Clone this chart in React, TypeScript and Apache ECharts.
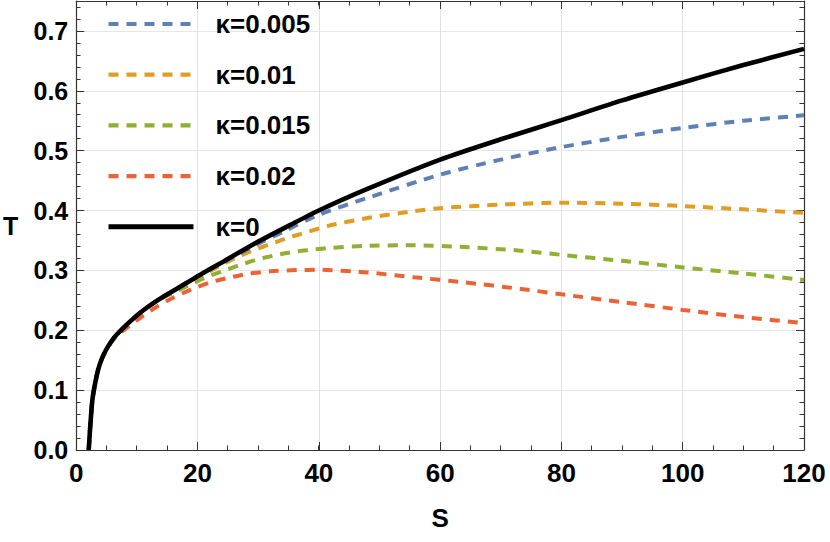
import React, { useEffect, useRef } from 'react';
import * as echarts from 'echarts';

// ---- data ----
const legendNames = ['κ=0.005', 'κ=0.01', 'κ=0.015', 'κ=0.02', 'κ=0'];

// κ = 0 (black solid)
const sK0 = [2.05, 2.3, 2.65, 3.1, 3.6, 4.2, 4.9, 5.7, 6.6, 8.8, 11, 13.7, 16.5, 19, 21, 24.3, 29.8, 35.3, 40, 48, 60, 70, 80, 90, 100, 110, 120];
const tK0 = [0, 0.039, 0.083, 0.111, 0.134, 0.152, 0.167, 0.18, 0.192, 0.214, 0.233, 0.252, 0.269, 0.284, 0.296, 0.315, 0.347, 0.376, 0.4, 0.436, 0.485, 0.519, 0.551, 0.584, 0.614, 0.643, 0.67];

// κ = 0.005 (blue dashed)
const sK1 = [2.05, 2.3, 2.65, 3.1, 3.6, 4.2, 4.9, 5.7, 6.6, 8.8, 11, 13.7, 16.5, 19, 21, 24.3, 29.3, 34.2, 40, 48, 60, 70, 80, 90, 100, 110, 120];
const tK1 = [0, 0.039, 0.083, 0.111, 0.134, 0.152, 0.167, 0.18, 0.192, 0.214, 0.233, 0.252, 0.269, 0.284, 0.296, 0.314, 0.341, 0.365, 0.393, 0.421, 0.46, 0.485, 0.506, 0.523, 0.538, 0.55, 0.559];

// κ = 0.01 (orange dashed)
const sK2 = [2.05, 2.3, 2.65, 3.1, 3.6, 4.2, 4.9, 5.7, 6.6, 8.8, 11, 13.7, 16.5, 19, 21, 23.7, 26.5, 29.3, 32, 34.8, 38.1, 41.4, 48, 55.7, 60, 70, 80, 90, 100, 110, 120];
const tK2 = [0, 0.039, 0.083, 0.111, 0.134, 0.152, 0.167, 0.18, 0.192, 0.214, 0.233, 0.252, 0.269, 0.283, 0.293, 0.308, 0.322, 0.334, 0.344, 0.354, 0.364, 0.374, 0.3875, 0.399, 0.404, 0.41, 0.413, 0.4115, 0.4075, 0.402, 0.396];

// κ = 0.015 (green dashed)
const sK3 = [2.05, 2.3, 2.65, 3.1, 3.6, 4.2, 4.9, 5.7, 6.6, 8.8, 11, 13.7, 15.9, 18.7, 21.5, 24.3, 27, 29.8, 33.1, 35.9, 39.2, 41.7, 47.4, 55.7, 64, 73.3, 80, 90, 100, 110, 120];
const tK3 = [0, 0.039, 0.083, 0.111, 0.134, 0.152, 0.167, 0.18, 0.192, 0.214, 0.233, 0.252, 0.262, 0.276, 0.289, 0.2994, 0.309, 0.318, 0.326, 0.331, 0.335, 0.3375, 0.341, 0.342, 0.339, 0.333, 0.326, 0.316, 0.305, 0.295, 0.284];

// κ = 0.02 (red dashed)
const sK4 = [2.05, 2.3, 2.65, 3.1, 3.6, 4.2, 4.9, 5.7, 6.6, 8.2, 11, 13.2, 15.9, 18.9, 22.1, 24.8, 28.2, 32, 36.4, 40, 47.4, 55.7, 64, 73.3, 80, 90, 100, 110, 120];
const tK4 = [0, 0.039, 0.083, 0.111, 0.134, 0.152, 0.166, 0.179, 0.19, 0.203, 0.224, 0.239, 0.254, 0.268, 0.28, 0.287, 0.294, 0.2985, 0.3005, 0.301, 0.297, 0.2885, 0.28, 0.269, 0.26, 0.247, 0.234, 0.222, 0.212];

const colors = ['#5E81B5', '#E19C24', '#8FB032', '#EB6235', '#000000'];

const xMin = 0, xMax = 120, xMajor = 20, xMinor = 5;
const yMin = 0, yMax = 0.75, yMajor = 0.1, yMinor = 0.02;

const FONT = '"Liberation Sans", Arial, Helvetica, sans-serif';
const frameColor = '#333333';

const zip = (s: number[], t: number[]) => s.map((v, i) => [v, t[i]]);

export default function App() {
  const ref = useRef<HTMLDivElement>(null);
  useEffect(() => {
    const chart = echarts.init(ref.current!, null, { renderer: 'svg' });
    const frameLine = { show: true, onZero: false, lineStyle: { color: frameColor, width: 1.2 } };
    const noLine = { show: false, onZero: false };
    const majorTick = { show: true, inside: true, length: 8, lineStyle: { color: frameColor, width: 1 } };
    const minorTick = { show: true, inside: true, length: 4.5, lineStyle: { color: frameColor, width: 1 } };
    const grid = { left: 76, right: 26, top: 1, bottom: 92, containLabel: false };

    const xBase = { type: 'value', min: xMin, max: xMax };
    const yBase = { type: 'value', min: yMin, max: yMax };

    const dashed = [10, 8];
    const datasets = [zip(sK1, tK1), zip(sK2, tK2), zip(sK3, tK3), zip(sK4, tK4), zip(sK0, tK0)];
    const widthOf = (i: number) => (i === 4 ? 4.6 : 4);
    const typeOf = (i: number) => (i === 4 ? 'solid' : dashed);

    const series = datasets.map((d, i) => ({
      name: legendNames[i],
      type: 'line',
      xAxisIndex: 0,
      yAxisIndex: 0,
      data: d,
      symbol: 'none',
      smooth: 0.25,
      clip: true,
      z: i === 4 ? 10 : 5 - i,
      lineStyle: {
        color: colors[i],
        width: widthOf(i),
        type: typeOf(i),
        cap: 'butt',
      },
      itemStyle: { color: colors[i] },
    }));

    chart.setOption({
      animation: false,
      backgroundColor: '#ffffff',
      grid: [grid, grid],
      xAxis: [
        {
          ...xBase, gridIndex: 0, position: 'bottom', interval: xMajor,
          axisLine: frameLine, axisTick: majorTick,
          axisLabel: { show: true, margin: 10, color: '#000', fontSize: 26, fontWeight: 'bold', fontFamily: FONT },
          splitLine: { show: true, lineStyle: { color: '#e0e0e0', width: 1 } },
          name: 'S', nameLocation: 'middle', nameGap: 55,
          nameTextStyle: { color: '#000', fontSize: 26, fontWeight: 'bold', fontFamily: FONT },
        },
        {
          ...xBase, gridIndex: 0, position: 'top', interval: xMajor,
          axisLine: frameLine, axisTick: majorTick, axisLabel: { show: false }, splitLine: { show: false },
        },
        {
          ...xBase, gridIndex: 1, position: 'bottom', interval: xMinor,
          axisLine: noLine, axisTick: minorTick, axisLabel: { show: false }, splitLine: { show: false },
        },
        {
          ...xBase, gridIndex: 1, position: 'top', interval: xMinor,
          axisLine: noLine, axisTick: minorTick, axisLabel: { show: false }, splitLine: { show: false },
        },
      ],
      yAxis: [
        {
          ...yBase, gridIndex: 0, position: 'left', interval: yMajor,
          axisLine: frameLine, axisTick: majorTick,
          axisLabel: {
            show: true, margin: 8, color: '#000', fontSize: 25, fontWeight: 'bold', fontFamily: FONT,
            showMaxLabel: false,
            formatter: (v: number) => v.toFixed(1),
          },
          splitLine: { show: true, lineStyle: { color: '#e6e6e6', width: 1 } },
          name: 'T', nameLocation: 'middle', nameGap: 58, nameRotate: 0,
          nameTextStyle: { color: '#000', fontSize: 25, fontWeight: 'bold', fontFamily: FONT },
        },
        {
          ...yBase, gridIndex: 0, position: 'right', interval: yMajor,
          axisLine: frameLine, axisTick: majorTick, axisLabel: { show: false }, splitLine: { show: false },
        },
        {
          ...yBase, gridIndex: 1, position: 'left', interval: yMinor,
          axisLine: noLine, axisTick: minorTick, axisLabel: { show: false }, splitLine: { show: false },
        },
        {
          ...yBase, gridIndex: 1, position: 'right', interval: yMinor,
          axisLine: noLine, axisTick: minorTick, axisLabel: { show: false }, splitLine: { show: false },
        },
      ],
      legend: {
        show: true,
        orient: 'vertical',
        left: 101,
        top: 6,
        data: legendNames.map((n, i) => ({
          name: n,
          itemStyle: { opacity: 0 },
          lineStyle: { color: colors[i], width: i === 4 ? 5 : 4.2, type: typeOf(i), cap: 'butt' },
        })),
        itemWidth: 85,
        itemHeight: 26,
        itemGap: 24.7,
        selectedMode: false,
        itemStyle: { opacity: 0 },
        textStyle: {
          color: '#000', fontSize: 26, fontWeight: 'bold', fontFamily: FONT,
          lineHeight: 26, padding: [0, 0, 0, 17],
        },
      },
      series,
    });
    return () => chart.dispose();
  }, []);
  return (
    <div
      ref={ref}
      style={{ position: 'absolute', left: 0, top: 0, width: 830, height: 542 }}
    />
  );
}
